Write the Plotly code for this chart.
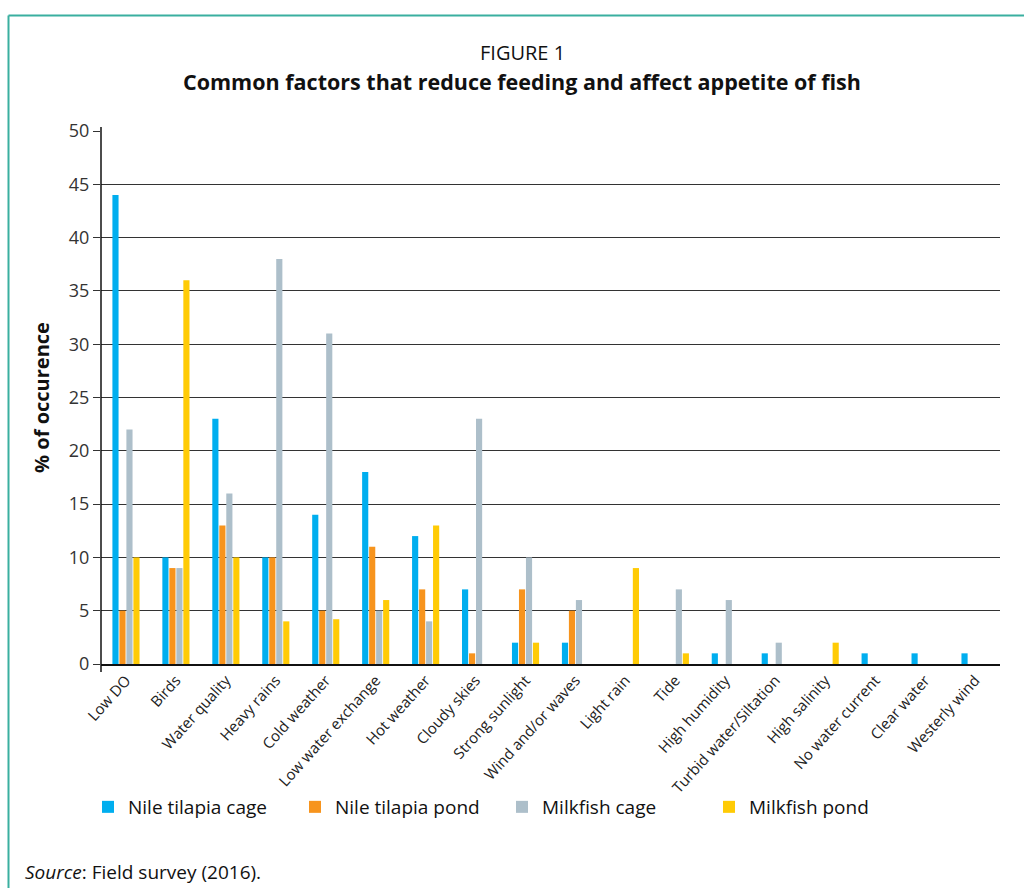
import plotly.graph_objects as go

categories = ["Low DO", "Birds", "Water quality", "Heavy rains", "Cold weather",
              "Low water exchange", "Hot weather", "Cloudy skies", "Strong sunlight",
              "Wind and/or waves", "Light rain", "Tide", "High humidity",
              "Turbid water/Siltation", "High salinity", "No water current",
              "Clear water", "Westerly wind"]

nile_tilapia_cage = [44, 10, 23, 10, 14, 18, 12, 7, 2, 2, 0, 0, 1, 1, 0, 1, 1, 1]
nile_tilapia_pond = [5, 9, 13, 10, 5, 11, 7, 1, 7, 5, 0, 0, 0, 0, 0, 0, 0, 0]
milkfish_cage = [22, 9, 16, 38, 31, 5, 4, 23, 10, 6, 0, 7, 6, 2, 0, 0, 0, 0]
milkfish_pond = [10, 36, 10, 4, 4.2, 6, 13, 0, 2, 0, 9, 1, 0, 0, 2, 0, 0, 0]

series_names = ["Nile tilapia cage", "Nile tilapia pond", "Milkfish cage", "Milkfish pond"]
series_values = [nile_tilapia_cage, nile_tilapia_pond, milkfish_cage, milkfish_pond]
series_colors = ["#00AEEF", "#F7941D", "#ADBFCA", "#FFCB05"]

y_ticks = [0, 5, 10, 15, 20, 25, 30, 35, 40, 45, 50]

FONT = "Open Sans"

fig = go.Figure()
for name, vals, col in zip(series_names, series_values, series_colors):
    fig.add_trace(go.Bar(x=categories, y=vals, name=name,
                         marker=dict(color=col, line=dict(width=0))))

L, R, T, B = 101, 24, 131, 224
W, H = 1024, 888
pw = W - L - R
ph = H - T - B

def px_to_paper_x(px):
    return (px - L) / pw

def px_to_paper_y(py):
    return (H - B - py) / ph

fig.update_layout(
    width=W, height=H,
    margin=dict(l=L, r=R, t=T, b=B, autoexpand=False),
    paper_bgcolor="white", plot_bgcolor="white",
    barmode="group", bargap=0.44, bargroupgap=0.12,
    font=dict(family=FONT, size=16, color="#222"),
    showlegend=True,
    legend=dict(orientation="h", x=px_to_paper_x(88), xanchor="left",
                y=px_to_paper_y(788), yanchor="top",
                bgcolor="rgba(0,0,0,0)",
                font=dict(family=FONT, size=19, color="#111"),
                entrywidth=162, entrywidthmode="pixels",
                itemwidth=30, traceorder="normal"),
    xaxis=dict(type="category", tickangle=-48, showgrid=False,
               showline=True, linecolor="#111", linewidth=1.5,
               ticks="", tickfont=dict(family=FONT, size=15, color="#222"),
               automargin=False),
    yaxis=dict(range=[0, 50], tickvals=y_ticks, showgrid=True,
               gridcolor="#333", gridwidth=1.2, zeroline=False,
               showline=False,
               ticks="outside", ticklen=7, tickcolor="#333", tickwidth=1.2,
               tickfont=dict(family=FONT, size=18, color="#333"),
               title=dict(text="<b>% of occurence</b>", standoff=13,
                          font=dict(family=FONT, size=20, color="#111")),
               automargin=False),
)

# y axis line extending slightly beyond the plot area, as in the reference
fig.add_shape(type="line", xref="paper", yref="paper",
              x0=0, x1=0, y0=px_to_paper_y(672), y1=px_to_paper_y(127),
              line=dict(color="#111", width=1.5))

fig.add_annotation(text="FIGURE 1", xref="paper", yref="paper",
                   x=px_to_paper_x(522), y=px_to_paper_y(52),
                   xanchor="center", yanchor="middle",
                   showarrow=False, font=dict(family=FONT, size=20, color="#111"))
fig.add_annotation(text="<b>Common factors that reduce feeding and affect appetite of fish</b>",
                   xref="paper", yref="paper",
                   x=px_to_paper_x(522), y=px_to_paper_y(81),
                   xanchor="center", yanchor="middle",
                   showarrow=False, font=dict(family=FONT, size=21.5, color="#111"))
fig.add_annotation(text="<i>Source</i>: Field survey (2016).", xref="paper", yref="paper",
                   x=px_to_paper_x(23), y=px_to_paper_y(872),
                   xanchor="left", yanchor="middle",
                   showarrow=False, font=dict(family=FONT, size=19, color="#111"))

# frame border (teal)
fig.add_shape(type="line", xref="paper", yref="paper",
              x0=px_to_paper_x(8.5), x1=px_to_paper_x(8.5),
              y0=px_to_paper_y(15.5), y1=px_to_paper_y(900),
              line=dict(color="#3AAFA0", width=2))
fig.add_shape(type="line", xref="paper", yref="paper",
              x0=px_to_paper_x(8.5), x1=px_to_paper_x(1030),
              y0=px_to_paper_y(15.5), y1=px_to_paper_y(15.5),
              line=dict(color="#3AAFA0", width=2))

fig.write_html("out.html", config={"displayModeBar": False},
               post_script="document.body.style.margin='0';document.body.style.overflow='hidden';")
